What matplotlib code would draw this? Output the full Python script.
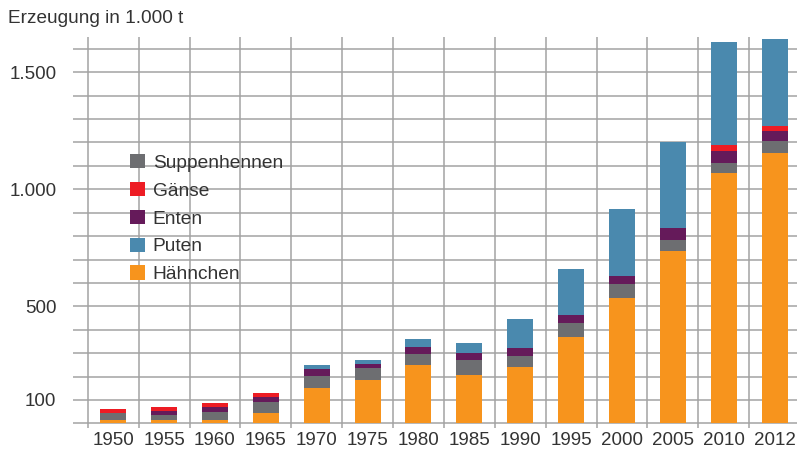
import numpy as np
import matplotlib.pyplot as plt

plt.rcParams['font.family'] = ['Liberation Sans', 'DejaVu Sans']

years = ['1950', '1955', '1960', '1965', '1970', '1975', '1980', '1985',
         '1990', '1995', '2000', '2005', '2010', '2012']
haehnchen    = [13, 13, 13, 43, 150, 184, 248, 205, 239, 368, 534, 735, 1068, 1154]
suppenhennen = [30, 21, 34, 47, 51, 51, 47, 64, 51, 60, 60, 47, 43, 51]
enten        = [0, 21, 21, 21, 30, 17, 30, 30, 34, 34, 34, 51, 51, 43]
gaense       = [17, 13, 21, 21, 0, 0, 0, 0, 0, 0, 0, 0, 26, 21]
puten        = [0, 0, 0, 0, 17, 17, 34, 43, 124, 197, 286, 368, 440, 372]

series = [('Hähnchen', haehnchen, '#f7941d'),
          ('Suppenhennen', suppenhennen, '#6d6e71'),
          ('Enten', enten, '#651a5a'),
          ('Gänse', gaense, '#ed1c24'),
          ('Puten', puten, '#4a89ae')]

fig = plt.figure(figsize=(7.97, 4.53), dpi=100)
ax = fig.add_axes([0.0916, 0.055, 0.9084, 0.863])

x = np.arange(len(years))
bottom = np.zeros(len(years))
handles = {}
for name, vals, col in series:
    b = ax.bar(x, vals, 0.51, bottom=bottom, color=col, zorder=3, label=name)
    handles[name] = b
    bottom += np.array(vals)

# grid
for g in np.arange(0, 1700, 100):
    ax.axhline(g, color='#a3a3a3', lw=1.1, zorder=1)
for v in np.arange(-0.5, len(years), 1):
    ax.axvline(v, color='#a3a3a3', lw=1.1, zorder=1)

ax.set_xlim(-0.79, 13.44)
ax.set_ylim(-20, 1650)
ax.set_xticks(x)
ax.set_xticklabels(years)
ax.set_yticks([100, 500, 1000, 1500])
ax.set_yticklabels(['100', '500', '1.000', '1.500'])
ax.tick_params(axis='x', length=0, pad=3, labelsize=13.5, labelcolor='#333333')
ax.tick_params(axis='y', length=0, pad=12, labelsize=13.5, labelcolor='#333333')
for s in ax.spines.values():
    s.set_visible(False)

order = ['Suppenhennen', 'Gänse', 'Enten', 'Puten', 'Hähnchen']
ax.legend([handles[n] for n in order], order, loc='upper left',
          bbox_to_anchor=(0.055, 0.745), frameon=False, fontsize=13.8,
          handlelength=0.78, handleheight=0.78, handletextpad=0.4,
          labelspacing=0.52, labelcolor='#333333')

fig.text(0.01, 0.96, 'Erzeugung in 1.000 t', fontsize=13.7, color='#333333',
         va='center', ha='left')

fig.savefig('out.png', dpi=100)
